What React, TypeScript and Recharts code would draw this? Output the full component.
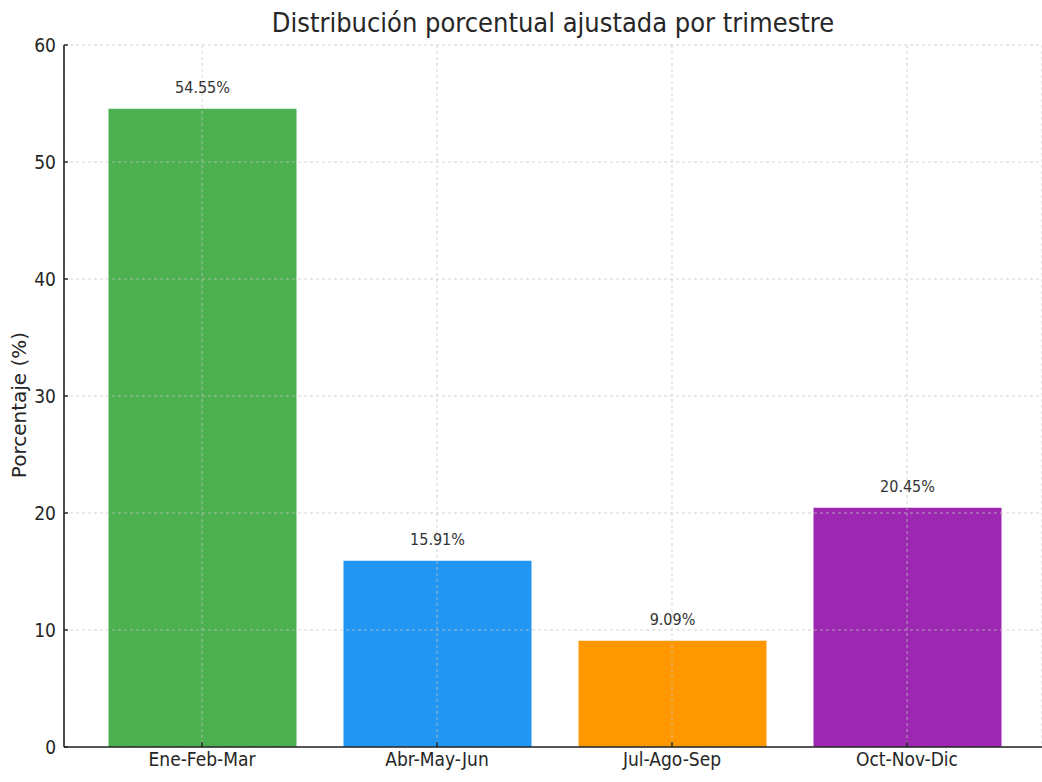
import React from 'react';
import { BarChart, Bar, XAxis, YAxis, CartesianGrid, Cell, LabelList } from 'recharts';

const categories = ['Ene-Feb-Mar', 'Abr-May-Jun', 'Jul-Ago-Sep', 'Oct-Nov-Dic'];
const percentages = [54.55, 15.91, 9.09, 20.45];
const barColors = ['#4CAF50', '#2196F3', '#FF9800', '#9C27B0'];
const yTicks = [0, 10, 20, 30, 40, 50, 60];
const titleText = 'Distribución porcentual ajustada por trimestre';
const yLabelText = 'Porcentaje (%)';

const data = categories.map((c, i) => ({ quarter: c, value: percentages[i] }));

const FONT = '"DejaVu Sans Condensed", "DejaVu Sans", sans-serif';

const YLabel = (props: any) => {
  const vb = props.viewBox || {};
  const cx = (vb.x || 0) + 19;
  const cy = (vb.y || 0) + (vb.height || 0) / 2 + 9;
  return (
    <text
      x={cx}
      y={cy}
      transform={`rotate(-90 ${cx} ${cy})`}
      textAnchor="middle"
      dominantBaseline="central"
      fill="#262626"
      fontSize={20}
      fontFamily='"DejaVu Sans", sans-serif'
    >
      {yLabelText}
    </text>
  );
};

export default function App() {
  return (
    <div style={{ position: 'absolute', left: 0, top: 0, width: 1042, height: 782, background: '#fff', fontFamily: FONT }}>
      <div
        style={{
          position: 'absolute',
          left: 64,
          width: 978,
          top: 9,
          textAlign: 'center',
          fontSize: 27,
          lineHeight: '27px',
          color: '#262626',
          whiteSpace: 'nowrap',
        }}
      >
        {titleText}
      </div>
      <BarChart width={1042} height={782} data={data} margin={{ top: 45, right: 0, bottom: 0, left: 0 }}>
        <XAxis
          dataKey="quarter"
          height={35}
          padding={{ left: 20.5, right: 17.5 }}
          tickSize={-5}
          tickMargin={11}
          tick={{ fill: '#262626', fontSize: 19, fontFamily: FONT }}
          axisLine={{ stroke: '#222', strokeWidth: 1.6 }}
          tickLine={{ stroke: '#222', strokeWidth: 1.4 }}
        />
        <YAxis
          width={64}
          domain={[0, 60]}
          ticks={yTicks}
          type="number"
          tickSize={-4}
          tickMargin={12}
          tick={{ fill: '#262626', fontSize: 19, fontFamily: FONT }}
          axisLine={{ stroke: '#222', strokeWidth: 1.6 }}
          tickLine={{ stroke: '#222', strokeWidth: 1.4 }}
          label={{ content: YLabel }}
        />
        <Bar dataKey="value" barSize={188} isAnimationActive={false}>
          {data.map((d, i) => (
            <Cell key={d.quarter} fill={barColors[i]} />
          ))}
          <LabelList
            dataKey="value"
            position="top"
            offset={16}
            fill="#333"
            fontSize={16}
            fontFamily={FONT}
            formatter={(v: any) => `${Number(v).toFixed(2)}%`}
          />
        </Bar>
        <CartesianGrid
          strokeDasharray="3 3"
          stroke="#c4c4c4"
          strokeOpacity={0.75}
          zIndex={450}
        />
      </BarChart>
    </div>
  );
}
